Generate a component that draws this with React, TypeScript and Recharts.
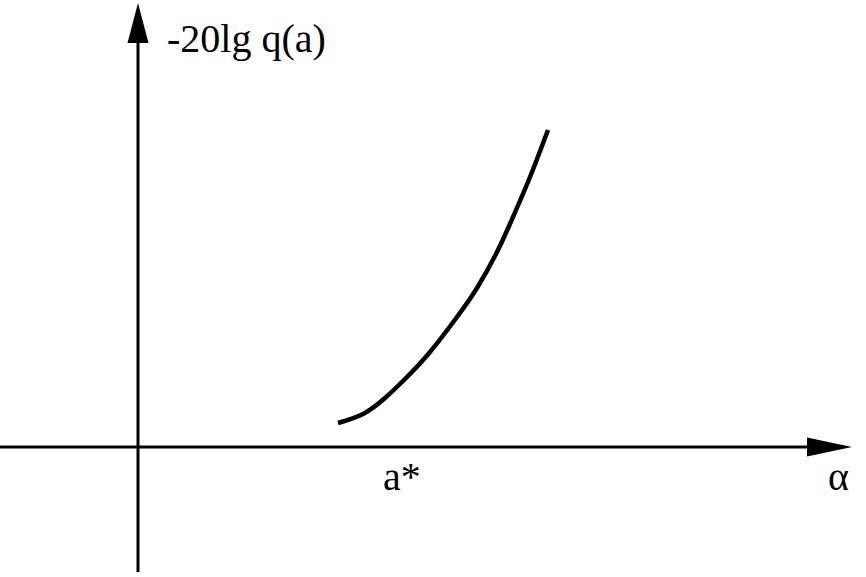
import React from 'react';
import { LineChart, Line, XAxis, YAxis, ReferenceLine } from 'recharts';

// curve (alpha, -20lg q(a)), origin at the axes crossing
const alphaValues = [2.0, 2.25, 2.47, 2.68, 2.92, 3.19, 3.39, 3.59, 3.75, 3.92, 4.1];
const levelValues = [0.24, 0.33, 0.49, 0.69, 0.95, 1.3, 1.59, 1.95, 2.3, 2.7, 3.17];

const xDomain = [-1.38, 7.28];
const yDomain = [-1.3, 4.47];

const yAxisSegment = [{ x: 0, y: -1.25 }, { x: 0, y: 4.44 }];
const xAxisSegment = [{ x: -1.38, y: 0 }, { x: 7.14, y: 0 }];

const yLabel = '-20lg q(a)';
const starLabel = 'a*';
const xLabel = 'α';

const data = alphaValues.map((a, i) => ({ a, v: levelValues[i] }));

const W = 866;
const H = 577;

// axis line with a filled arrow head at its end
const arrowShape = (head: number, half: number) => (props: any) => {
  const { x1, y1, x2, y2 } = props;
  const dx = x2 - x1;
  const dy = y2 - y1;
  const len = Math.sqrt(dx * dx + dy * dy) || 1;
  const ux = dx / len;
  const uy = dy / len;
  const bx = x2 - ux * head;
  const by = y2 - uy * head;
  const pts = [
    `${x2},${y2}`,
    `${bx - uy * half},${by + ux * half}`,
    `${bx + uy * half},${by - ux * half}`
  ].join(' ');
  return (
    <g>
      <line x1={x1} y1={y1} x2={bx} y2={by} stroke="#000" strokeWidth={3} />
      <polygon points={pts} fill="#000" />
    </g>
  );
};

export default function App() {
  return (
    <div style={{ width: W, height: H, background: '#fff' }}>
      <style>{'body{margin:0}'}</style>
      <LineChart width={W} height={H} data={data} margin={{ top: 0, right: 0, bottom: 0, left: 0 }}>
        <XAxis dataKey="a" type="number" domain={xDomain} allowDataOverflow hide />
        <YAxis type="number" domain={yDomain} allowDataOverflow hide />
        <ReferenceLine segment={yAxisSegment} shape={arrowShape(40, 10.5)} />
        <ReferenceLine segment={xAxisSegment} shape={arrowShape(45, 9.5)} />
        <Line
          dataKey="v"
          type="natural"
          stroke="#000"
          strokeWidth={4.5}
          dot={false}
          activeDot={false}
          isAnimationActive={false}
        />
        <text x={167} y={52} fontFamily="Liberation Serif" fontSize={40} fill="#000">
          {yLabel}
        </text>
        <text x={383} y={490} fontFamily="Liberation Serif" fontSize={40} fill="#000">
          {starLabel}
        </text>
        <text x={828} y={490} fontFamily="Liberation Serif" fontSize={40} fill="#000">
          {xLabel}
        </text>
      </LineChart>
    </div>
  );
}
